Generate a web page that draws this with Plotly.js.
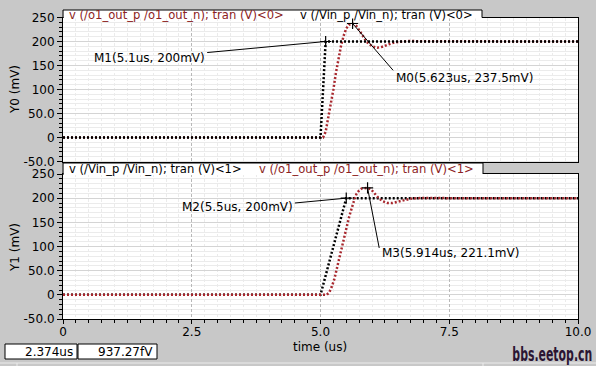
<!DOCTYPE html>
<html><head><meta charset="utf-8">
<script src="https://cdn.plot.ly/plotly-3.0.1.min.js"></script>
<style>html,body{margin:0;padding:0;background:#c8c8c8;} #chart{width:596px;height:366px;}</style>
</head><body><div id="chart"></div>
<script>
// ---- data ----
const timeIn0 = [0, 5.0, 5.1, 10];
const vin0 = [0, 0, 200, 200];
const timeOut0 = [0, 5.05, 5.1, 5.15, 5.2, 5.25, 5.3, 5.35, 5.4, 5.45, 5.5, 5.55, 5.623, 5.7, 5.8, 5.9, 6.0, 6.1, 6.2, 6.3, 6.4, 6.5, 6.7, 7.0, 10];
const vout0 = [0, 0, 12, 40, 70, 100, 135, 165, 192, 212, 227, 235, 237.5, 232, 216, 199, 190, 187, 189, 193, 197, 199, 201, 200.5, 200];
const timeIn1 = [0, 5.0, 5.5, 10];
const vin1 = [0, 0, 200, 200];
const timeOut1 = [0, 5.12, 5.17, 5.22, 5.27, 5.31, 5.36, 5.41, 5.46, 5.51, 5.56, 5.61, 5.66, 5.70, 5.75, 5.80, 5.85, 5.914, 5.98, 6.05, 6.12, 6.2, 6.3, 6.4, 6.5, 6.6, 6.75, 7.0, 7.5, 10];
const vout1 = [0, 0, 5, 17, 33, 52, 72, 93, 117, 141, 163, 182, 198, 209, 216, 220, 220.8, 221.1, 218.5, 210, 201, 194, 190, 190, 193, 196, 199, 200.5, 200, 200];

const xTickVals = [0, 2.5, 5, 7.5, 10];
const xTickText = ['0', '2.5', '5.0', '7.5', '10.0'];
const yTickVals = [-50, 0, 50, 100, 150, 200, 250];
const yTickText = ['-50.0', '0', '50.0', '100', '150', '200', '250'];

// markers: name, time, value ; label anchor (time, value) ; connector start (time, value)
const markerNames0 = ['M1', 'M0'];
const markerX0 = [5.1, 5.623];
const markerY0 = [200, 237.5];
const labelX0 = [2.80, 6.43];
const labelY0 = [165, 125];
const lineStartX0 = [2.80, 6.41];
const lineStartY0 = [177, 140];
const labelSide0 = ['right', 'left'];

const markerNames1 = ['M2', 'M3'];
const markerX1 = [5.5, 5.914];
const markerY1 = [200, 221.1];
const labelX1 = [4.50, 6.16];
const labelY1 = [181, 87];
const lineStartX1 = [4.50, 6.14];
const lineStartY1 = [190, 97];
const labelSide1 = ['right', 'left'];

const legendTop = [['v (/o1_out_p /o1_out_n); tran (V)<0>', 'red'], ['v (/Vin_p /Vin_n); tran (V)<0>', 'black']];
const legendBot = [['v (/Vin_p /Vin_n); tran (V)<1>', 'black'], ['v (/o1_out_p /o1_out_n); tran (V)<1>', 'red']];

// ---- styling ----
const W = 596, H = 366;
const PX = x => x / W;
const PY = y => 1 - y / H;
const RED = '#a8282e';
const RED_TXT = '#8c2222';
const FONT = 'DejaVu Sans, Verdana, sans-serif';
const dotted = (c) => ({color: c, width: 2.5, dash: '2px,2px'});

const traces = [];
traces.push({x: timeOut0, y: vout0, xaxis: 'x', yaxis: 'y', mode: 'lines', line: dotted(RED), hoverinfo: 'skip'});
traces.push({x: timeIn0, y: vin0, xaxis: 'x', yaxis: 'y', mode: 'lines', line: dotted('#000'), hoverinfo: 'skip'});
traces.push({x: timeIn1, y: vin1, xaxis: 'x2', yaxis: 'y2', mode: 'lines', line: dotted('#000'), hoverinfo: 'skip'});
traces.push({x: timeOut1, y: vout1, xaxis: 'x2', yaxis: 'y2', mode: 'lines', line: dotted(RED), hoverinfo: 'skip'});

function addMarkers(mx, my, lx, ly, xa, ya) {
  for (let i = 0; i < mx.length; i++) {
    traces.push({x: [lx[i], mx[i]], y: [ly[i], my[i]], xaxis: xa, yaxis: ya, mode: 'lines',
      line: {color: '#000', width: 1}, hoverinfo: 'skip'});
  }
  traces.push({x: mx, y: my, xaxis: xa, yaxis: ya, mode: 'markers',
    marker: {symbol: 'cross-thin', size: 8, line: {color: '#000', width: 1.2}}, hoverinfo: 'skip'});
}
addMarkers(markerX0, markerY0, lineStartX0, lineStartY0, 'x', 'y');
addMarkers(markerX1, markerY1, lineStartX1, lineStartY1, 'x2', 'y2');

const annotations = [];
function addLabels(names, mx, my, lx, ly, side, xa, ya) {
  for (let i = 0; i < names.length; i++) {
    annotations.push({x: lx[i], y: ly[i], xref: xa, yref: ya, xanchor: side[i], yanchor: 'middle',
      text: names[i] + '(' + String(mx[i]) + 'us, ' + String(my[i]) + 'mV)', showarrow: false,
      font: {family: FONT, size: 12, color: '#000'}});
  }
}
addLabels(markerNames0, markerX0, markerY0, labelX0, labelY0, labelSide0, 'x', 'y');
addLabels(markerNames1, markerX1, markerY1, labelX1, labelY1, labelSide1, 'x2', 'y2');

function paperText(x, y, text, opts) {
  annotations.push(Object.assign({x: PX(x), y: PY(y), xref: 'paper', yref: 'paper', xanchor: 'center', yanchor: 'middle',
    showarrow: false, text: text, font: {family: FONT, size: 12, color: '#000'}}, opts || {}));
}
const legTopX = [67, 298], legBotX = [67, 257];
legendTop.forEach((l, i) => paperText(legTopX[i], 15.5, l[0], {xanchor: 'left',
  font: {family: FONT, size: 11.6, color: l[1] === 'red' ? RED_TXT : '#000'}}));
legendBot.forEach((l, i) => paperText(legBotX[i], 169, l[0], {xanchor: 'left',
  font: {family: FONT, size: 11.6, color: l[1] === 'red' ? RED_TXT : '#000'}}));

paperText(15, 89, 'Y0 (mV)', {textangle: -90});
paperText(15, 247, 'Y1 (mV)', {textangle: -90});
paperText(320, 347, 'time (us)');
paperText(75, 352, '2.374us', {xanchor: 'right'});
paperText(155, 352, '937.27fV', {xanchor: 'right'});
paperText(594, 354, '<b>bbs.eetop.cn</b>', {xanchor: 'right',
  font: {family: 'DejaVu Sans Condensed, sans-serif', size: 19, color: '#2b1533'}});

const shapes = [];
const rect = (x0, y0, x1, y1, fill, line) => ({type: 'rect', xref: 'paper', yref: 'paper', layer: 'above',
  x0: PX(x0), x1: PX(x1), y0: PY(y0), y1: PY(y1), fillcolor: fill, line: line || {width: 0}});
const seg = (x0, y0, x1, y1, c, w) => ({type: 'line', xref: 'paper', yref: 'paper', layer: 'above',
  x0: PX(x0), x1: PX(x1), y0: PY(y0), y1: PY(y1), line: {color: c || '#000', width: w || 1}});
// top tab
shapes.push(rect(63.5, 10, 482, 18.5, '#fff'));
shapes.push(seg(63, 10, 482, 10));
shapes.push(seg(482, 10, 482, 17.5));
shapes.push(seg(63, 10, 63, 18));
// bottom tab
shapes.push(rect(63.5, 163, 483, 175, '#fff'));
shapes.push(seg(63, 163, 483, 163));
shapes.push(seg(483, 163, 483, 174));
shapes.push(seg(63, 163, 63, 175));
// status boxes
shapes.push(rect(5, 344, 77, 359, '#fff', {color: '#000', width: 1}));
shapes.push(rect(78, 344, 157, 359, '#fff', {color: '#000', width: 1}));
shapes.push(seg(0, 363, 596, 363, '#ececec', 1));
shapes.push(seg(17, 363, 17, 366, '#ececec', 1));
shapes.push(seg(483, 363, 483, 366, '#ececec', 1));

const xDom = [63 / W, 578 / W];
const xCommon = {domain: xDom, range: [0, 10], tickvals: xTickVals, ticktext: xTickText,
  showline: true, mirror: true, linecolor: '#000', linewidth: 1,
  showgrid: true, gridcolor: '#b8b8b8', griddash: '3px,2px', gridwidth: 1, zeroline: false,
  tickfont: {family: FONT, size: 12, color: '#000'}, automargin: false, fixedrange: true};
const yCommon = {range: [-50, 250], tickvals: yTickVals, ticktext: yTickText,
  showline: true, mirror: true, linecolor: '#000', linewidth: 1,
  showgrid: true, gridcolor: '#d4d4d4', gridwidth: 1, zeroline: false,
  ticks: 'outside', ticklen: 5, tickcolor: '#000',
  minor: {dtick: 10, tick0: 0, ticks: 'outside', ticklen: 3, tickcolor: '#000', showgrid: true, gridcolor: '#ebebeb'},
  tickfont: {family: FONT, size: 12, color: '#000'}, automargin: false, fixedrange: true};

const layout = {
  width: W, height: H, margin: {l: 0, r: 0, t: 0, b: 0},
  paper_bgcolor: '#c8c8c8', plot_bgcolor: '#ffffff', showlegend: false,
  xaxis: Object.assign({}, xCommon, {anchor: 'y', showticklabels: false, ticks: '',
    minor: {dtick: 0.25, tick0: 0, ticks: '', showgrid: true, gridcolor: '#ebebeb'}}),
  yaxis: Object.assign({}, yCommon, {domain: [1 - 161.5 / H, 1 - 17.5 / H], anchor: 'x'}),
  xaxis2: Object.assign({}, xCommon, {anchor: 'y2', ticks: 'outside', ticklen: 4, tickcolor: '#000', ticklabelstandoff: -2,
    minor: {dtick: 0.25, tick0: 0, ticks: 'outside', ticklen: 3, tickcolor: '#000', showgrid: true, gridcolor: '#ebebeb'}}),
  yaxis2: Object.assign({}, yCommon, {domain: [1 - 319 / H, 1 - 174 / H], anchor: 'x2'}),
  annotations: annotations, shapes: shapes
};

Plotly.newPlot('chart', traces, layout, {displayModeBar: false, staticPlot: true}).then(gd => {
  // narrow the bold watermark text horizontally (condensed look), anchored at its right edge
  gd.querySelectorAll('.annotation-text').forEach(t => {
    if (t.textContent === 'bbs.eetop.cn') {
      const bb = t.getBBox();
      const cx = bb.x + bb.width;
      const s = 80 / bb.width;
      t.setAttribute('transform', 'translate(' + cx + ',0) scale(' + s + ',1) translate(' + (-cx) + ',0)');
    }
  });
});
</script></body></html>
